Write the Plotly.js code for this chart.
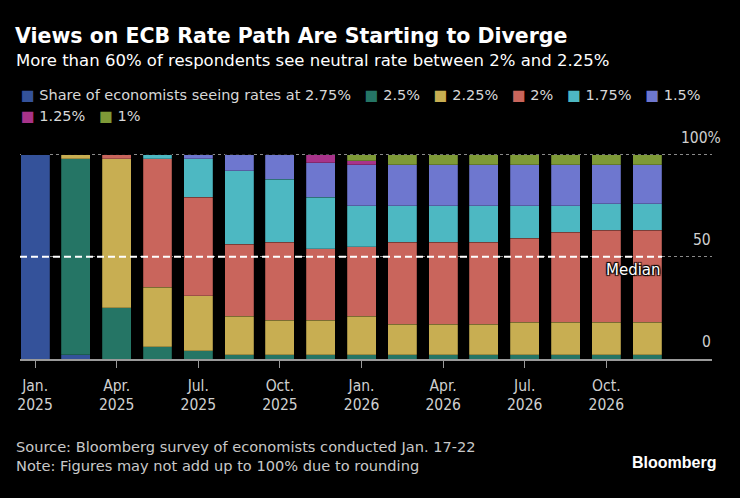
<!DOCTYPE html>
<html>
<head>
<meta charset="utf-8">
<script src="https://cdn.plot.ly/plotly-3.0.1.min.js"></script>
<style>
  html, body { margin: 0; padding: 0; background: #000; }
  #chart { width: 740px; height: 498px; }
</style>
</head>
<body>
<div id="chart"></div>
<script>
// ECB policy meetings (categories)
const meetings = ['2025-01-30','2025-03-06','2025-04-17','2025-06-05','2025-07-24','2025-09-11','2025-10-30','2025-12-18',
                  '2026-02-05','2026-03-19','2026-04-30','2026-06-11','2026-07-23','2026-09-10','2026-10-29','2026-12-17'];

// Share of economists (%) seeing each deposit rate at each meeting
const rate275 = [100, 2, 0, 0, 0, 0, 0, 0, 0, 0, 0, 0, 0, 0, 0, 0];
const rate250 = [0, 96, 25, 6, 4, 2, 2, 2, 2, 2, 2, 2, 2, 2, 2, 2];
const rate225 = [0, 2, 73, 29, 27, 19, 17, 17, 19, 15, 15, 15, 16, 16, 16, 16];
const rate200 = [0, 0, 2, 63, 48, 35, 38, 35, 34, 40, 40, 40, 41, 44, 45, 45];
const rate175 = [0, 0, 0, 2, 19, 36, 31, 25, 20, 18, 18, 18, 16, 13, 13, 13];
const rate150 = [0, 0, 0, 0, 2, 8, 12, 17, 20, 20, 20, 20, 20, 20, 19, 19];
const rate125 = [0, 0, 0, 0, 0, 0, 0, 4, 2, 0, 0, 0, 0, 0, 0, 0];
const rate100 = [0, 0, 0, 0, 0, 0, 0, 0, 3, 5, 5, 5, 5, 5, 5, 5];

const seriesNames = ['Share of economists seeing rates at 2.75%', '2.5%', '2.25%', '2%', '1.75%', '1.5%', '1.25%', '1%'];

// Tick labels
const tickMeetings = ['2025-01-30','2025-04-17','2025-07-24','2025-10-30','2026-02-05','2026-04-30','2026-07-23','2026-10-29'];
const tickMonths = ['Jan.', 'Apr.', 'Jul.', 'Oct.', 'Jan.', 'Apr.', 'Jul.', 'Oct.'];
const tickYears = ['2025', '2025', '2025', '2025', '2026', '2026', '2026', '2026'];
const yTickVals = [0, 50, 100];
const yTickText = ['0', '50', '100'];

const colors = ['#34529a', '#257565', '#c8ae52', '#c9655c', '#4db8c2', '#6e77cf', '#a8338a', '#7e9a37'];
const series = [rate275, rate250, rate225, rate200, rate175, rate150, rate125, rate100];

const FONT = 'DejaVu Sans, Verdana, sans-serif';
const NUMFONT = 'DejaVu Sans Condensed, DejaVu Sans, sans-serif';

const traces = series.map((vals, i) => ({
  type: 'bar',
  name: seriesNames[i],
  x: meetings,
  y: vals,
  marker: { color: colors[i], line: { width: 0.6, color: 'rgba(0,0,0,0.35)' } },
  hoverinfo: 'skip'
}));

const tickIdx = tickMeetings.map(m => meetings.indexOf(m));
const xRange = [-0.37, 16.59];

// plot area geometry helpers (pixels -> paper)
const PLOT_TOP = 130, PLOT_BOTTOM = 359, PH = PLOT_BOTTOM - PLOT_TOP, PL = 20, PW = 692;
const py = px => (PLOT_BOTTOM - px) / PH;
const pxX = px => (px - PL) / PW;

// legend rows as rich text
function legendRow(idxs) {
  return idxs.map(i => '<span style="color:' + colors[i] + '">■</span> ' + seriesNames[i])
             .join('&nbsp;&nbsp;&nbsp;');
}

// right-hand value labels, drawn above their gridlines
const yLabelAnnotations = yTickVals.map((v, i) => {
  const last = i === yTickVals.length - 1;
  return {
    text: yTickText[i] + (last ? '%' : ''),
    xref: 'paper', yref: 'y', x: pxX(last ? 723 : 713), xanchor: 'right',
    y: v, yanchor: 'bottom', yshift: 6, showarrow: false,
    font: { family: NUMFONT, size: 15.5, color: '#d0d0d0' }
  };
});

const layout = {
  width: 740,
  height: 498,
  paper_bgcolor: '#000',
  plot_bgcolor: '#000',
  barmode: 'stack',
  bargap: 0.29,
  margin: { l: PL, r: 740 - PL - PW, t: PLOT_TOP, b: 498 - PLOT_BOTTOM },
  font: { family: FONT, color: '#d8d8d8', size: 15 },
  title: {
    text: '<b>Views on ECB Rate Path Are Starting to Diverge</b>',
    x: 15 / 740, xanchor: 'left', xref: 'container',
    y: 1 - 29 / 498, yanchor: 'top', yref: 'container',
    font: { family: FONT, size: 20.5, color: '#ffffff' }
  },
  showlegend: false,
  xaxis: {
    type: 'category',
    range: xRange,
    tickmode: 'array',
    tickvals: tickMeetings,
    ticktext: tickMonths,
    ticks: 'outside',
    ticklen: 7,
    tickwidth: 1,
    tickcolor: '#9a9a9a',
    ticklabelstandoff: 5,
    showline: true,
    linecolor: '#9a9a9a',
    linewidth: 1.5,
    showgrid: false,
    zeroline: false,
    fixedrange: true,
    tickfont: { family: NUMFONT, size: 15.5, color: '#d0d0d0' }
  },
  xaxis2: {
    type: 'linear',
    overlaying: 'x',
    anchor: 'y',
    side: 'bottom',
    range: xRange,
    tickmode: 'array',
    tickvals: tickIdx,
    ticktext: tickYears,
    ticks: '',
    ticklabelstandoff: 34,
    showline: false,
    showgrid: false,
    zeroline: false,
    fixedrange: true,
    tickfont: { family: NUMFONT, size: 15.5, color: '#d0d0d0' }
  },
  yaxis: {
    range: [0, PH / 2.045],
    side: 'right',
    tickmode: 'array',
    tickvals: yTickVals,
    showticklabels: false,
    ticks: '',
    showgrid: true,
    gridcolor: '#8a8a8a',
    griddash: 'dot',
    gridwidth: 1,
    zeroline: false,
    showline: false,
    fixedrange: true
  },
  shapes: [{
    type: 'line', xref: 'paper', yref: 'y',
    x0: 0, x1: pxX(662), y0: 50, y1: 50,
    line: { color: '#ffffff', width: 2, dash: '7px,4px' },
    layer: 'above'
  }],
  annotations: [
    {
      text: 'More than 60% of respondents see neutral rate between 2% and 2.25%',
      xref: 'paper', yref: 'paper', x: pxX(14), xanchor: 'left',
      y: py(49), yanchor: 'top', showarrow: false,
      font: { family: FONT, size: 16.5, color: '#ffffff' }
    },
    {
      text: legendRow([0, 1, 2, 3, 4, 5]),
      xref: 'paper', yref: 'paper', x: pxX(19), xanchor: 'left',
      y: py(95), yanchor: 'middle', showarrow: false,
      font: { family: FONT, size: 14.5, color: '#d8d8d8' }
    },
    {
      text: legendRow([6, 7]),
      xref: 'paper', yref: 'paper', x: pxX(19), xanchor: 'left',
      y: py(116), yanchor: 'middle', showarrow: false,
      font: { family: FONT, size: 14.5, color: '#d8d8d8' }
    },
    {
      text: 'Median',
      xref: 'paper', yref: 'y', x: pxX(663), xanchor: 'right',
      y: 50, yanchor: 'top', yshift: -2, showarrow: false,
      font: { family: FONT, size: 15, color: '#ffffff',
              shadow: '1px 1px 1px #000, -1px -1px 1px #000, 1px -1px 1px #000, -1px 1px 1px #000' }
    },
    {
      text: 'Source: Bloomberg survey of economists conducted Jan. 17-22<br>Note: Figures may not add up to 100% due to rounding',
      xref: 'paper', yref: 'paper', x: pxX(14), xanchor: 'left', align: 'left',
      y: py(436), yanchor: 'top', showarrow: false,
      font: { family: FONT, size: 14.6, color: '#c8c8c8' }
    },
    {
      text: '<b>Bloomberg</b>',
      xref: 'paper', yref: 'paper', x: pxX(718), xanchor: 'right',
      y: py(452), yanchor: 'top', showarrow: false,
      font: { family: 'Liberation Sans, Arial, sans-serif', size: 16, color: '#ffffff' }
    }
  ].concat(yLabelAnnotations)
};

// invisible helper trace so the year-label axis is drawn
traces.push({ type: 'scatter', x: [0], y: [0], xaxis: 'x2', yaxis: 'y', mode: 'markers',
  marker: { opacity: 0 }, showlegend: false, hoverinfo: 'skip' });

Plotly.newPlot('chart', traces, layout, { staticPlot: true, displayModeBar: false });
</script>
</body>
</html>
